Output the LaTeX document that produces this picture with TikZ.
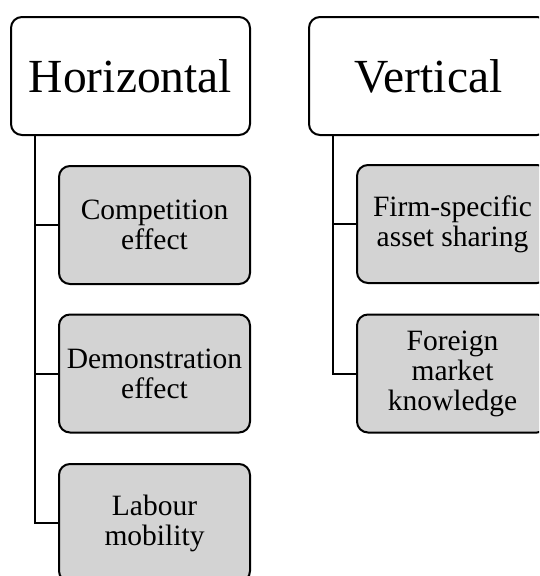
\documentclass[tikz,border=0pt]{standalone}
\usepackage{fontspec}
\setmainfont{Liberation Serif}
\definecolor{boxgray}{RGB}{211,211,211}
\tikzset{
  headbox/.style={draw,line width=2pt,rounded corners=11pt,fill=white,
    minimum width=239pt,minimum height=118pt,inner sep=0pt,
    font=\fontsize{47.5}{50}\selectfont},
  itembox/.style={draw,line width=2pt,rounded corners=11pt,fill=boxgray,
    minimum width=191pt,minimum height=118pt,inner sep=0pt,align=center,
    font=\fontsize{29.5}{30}\selectfont},
  trunk/.style={line width=2pt}
}

\begin{document}
\begin{tikzpicture}[x=1pt,y=-1pt]
  \useasboundingbox (0,0) rectangle (539,576);
  \clip (0,0) rectangle (539,576);

  % horizontal spillovers
  \coordinate (hx) at (35,0);
  \node[headbox] (hor) at (130.5,76) {Horizontal};
  \node[itembox] (comp) at (154.5,225) {Competition\\effect};
  \node[itembox] (demo) at (154.5,373.5) {Demonstration\\effect};
  \node[itembox] (lab) at (154.5,523) {Labour\\mobility};
  \draw[trunk] (hx |- hor.south) |- (lab.west);
  \draw[trunk] (hx |- comp.west) -- (comp.west);
  \draw[trunk] (hx |- demo.west) -- (demo.west);

  % vertical spillovers
  \coordinate (vx) at (333,0);
  \node[headbox] (vert) at (428.5,76) {Vertical};
  \node[itembox] (firm) at (452.5,224) {Firm-specific\\asset sharing};
  \node[itembox] (fore) at (452.5,373.5) {Foreign\\market\\knowledge};
  \draw[trunk] (vx |- vert.south) |- (fore.west);
  \draw[trunk] (vx |- firm.west) -- (firm.west);
\end{tikzpicture}
\end{document}
